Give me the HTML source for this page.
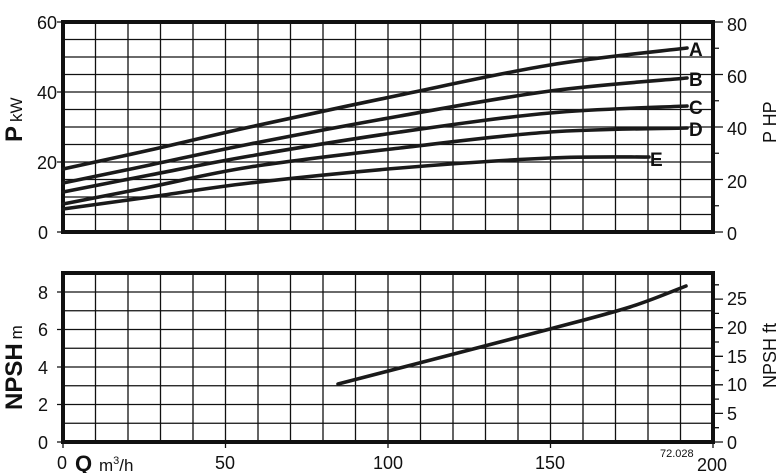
<!DOCTYPE html>
<html><head><meta charset="utf-8"><style>
body{margin:0;background:#fff;}
svg{display:block;font-family:"Liberation Sans",sans-serif;}
</style></head><body>
<svg width="784" height="473" viewBox="0 0 784 473" xmlns="http://www.w3.org/2000/svg">
<g stroke="#111" stroke-width="1.3" fill="none">
<path d="M95.5 22V232M128 22V232M160.5 22V232M193 22V232M225.5 22V232M258 22V232M290.5 22V232M323 22V232M355.5 22V232M388 22V232M420.5 22V232M453 22V232M485.5 22V232M518 22V232M550.5 22V232M583 22V232M615.5 22V232M648 22V232M680.5 22V232"/>
<path d="M63 39.5H713M63 57H713M63 74.5H713M63 92H713M63 109.5H713M63 127H713M63 144.5H713M63 162H713M63 179.5H713M63 197H713M63 214.5H713"/>
<path d="M95.5 273V442M128 273V442M160.5 273V442M193 273V442M225.5 273V442M258 273V442M290.5 273V442M323 273V442M355.5 273V442M388 273V442M420.5 273V442M453 273V442M485.5 273V442M518 273V442M550.5 273V442M583 273V442M615.5 273V442M648 273V442M680.5 273V442"/>
<path d="M63 423.25H713M63 404.5H713M63 385.75H713M63 367H713M63 348.25H713M63 329.5H713M63 310.75H713M63 292H713"/>
<path d="M57 22H63M57 92H63M57 162H63M57 232H63"/>
<path d="M57 292H63M57 329.5H63M57 367H63M57 404.5H63M57 442H63"/>
<path d="M713 22H723M713 48.25H719M713 74.5H723M713 100.75H719M713 127H723M713 153.25H719M713 179.5H723M713 205.75H719M713 232H723"/>
<path d="M713 442H723M713 427.7H719M713 413.4H723M713 399.1H719M713 384.8H723M713 370.5H719M713 356.3H723M713 342H719M713 327.7H723M713 313.4H719M713 299.1H723M713 284.8H719"/>
<path d="M63 442V448M225.5 442V448M388 442V448M550.5 442V448M713 442V448"/>
</g>
<g stroke="#111" stroke-width="4" fill="none">
<rect x="63" y="22" width="650" height="210"/>
<rect x="63" y="273" width="650" height="169"/>
</g>
<g id="curves" stroke="#1a1a1a" stroke-width="3.6" fill="none" stroke-linecap="round" stroke-linejoin="round">
<path d="M63 169 L150 150 L250 127 L400 95 L550 65 L687 48"/>
<path d="M63 183 L150 165 L250 144 L400 116 L550 91 L687 78"/>
<path d="M63 192 L150 175 L250 156 L400 132 L550 113 L687 106"/>
<path d="M63 204 L150 187 L250 167 L400 148 L550 132 L687 128"/>
<path d="M63 209 L150 197 L250 183 L400 168 L550 158 L649 157"/>
<path d="M338 384 L450 355 L550 329 L630 307 L686 286"/>
</g>
<g fill="#111" font-size="18">
<text x="57" y="29" text-anchor="end">60</text>
<text x="57" y="99" text-anchor="end">40</text>
<text x="57" y="169" text-anchor="end">20</text>
<text x="48" y="239" text-anchor="end">0</text>
<text x="48" y="299" text-anchor="end">8</text>
<text x="48" y="336" text-anchor="end">6</text>
<text x="48" y="374" text-anchor="end">4</text>
<text x="48" y="411" text-anchor="end">2</text>
<text x="48" y="449" text-anchor="end">0</text>
<text x="727" y="31">80</text>
<text x="727" y="83">60</text>
<text x="727" y="135">40</text>
<text x="727" y="188">20</text>
<text x="727" y="240">0</text>
<text x="727" y="305">25</text>
<text x="727" y="334">20</text>
<text x="727" y="363">15</text>
<text x="727" y="391">10</text>
<text x="727" y="420">5</text>
<text x="727" y="449">0</text>
<text x="57" y="469">0</text>
<text x="225" y="469" text-anchor="middle">50</text>
<text x="388" y="469" text-anchor="middle">100</text>
<text x="550" y="469" text-anchor="middle">150</text>
<text x="712" y="471" text-anchor="middle">200</text>
</g>
<g fill="#111" font-size="19" font-weight="bold">
<text x="689" y="56">A</text>
<text x="689" y="86">B</text>
<text x="689" y="114">C</text>
<text x="689" y="136">D</text>
<text x="650" y="166">E</text>
</g>
<text x="75" y="471" font-size="22" font-weight="bold" fill="#111">Q</text>
<text x="99" y="471" font-size="17" fill="#111">m<tspan font-size="11" dy="-7">3</tspan><tspan dy="7">/h</tspan></text>
<text x="660" y="457" font-size="11" fill="#111">72.028</text>
<text transform="translate(22,142) rotate(-90)" fill="#111"><tspan font-size="24" font-weight="bold">P</tspan><tspan font-size="17" dx="4">kW</tspan></text>
<text transform="translate(22,410) rotate(-90)" fill="#111"><tspan font-size="24" font-weight="bold">NPSH</tspan><tspan font-size="17" dx="4">m</tspan></text>
<text transform="translate(776,143) rotate(-90)" fill="#111" font-size="18">P HP</text>
<text transform="translate(776,388) rotate(-90)" fill="#111" font-size="18">NPSH ft</text>
</svg>
<script>
document.querySelectorAll('#curves path').forEach(function(p){
  var pts=p.getAttribute('d').replace(/[ML]/g,' ').trim().split(/\s+/).map(Number);
  var P=[];for(var i=0;i<pts.length;i+=2)P.push([pts[i],pts[i+1]]);
  var d='M'+P[0][0]+' '+P[0][1];
  for(var i=0;i<P.length-1;i++){
    var p0=P[i-1]||P[i],p1=P[i],p2=P[i+1],p3=P[i+2]||P[i+1];
    var c1=[p1[0]+(p2[0]-p0[0])/6,p1[1]+(p2[1]-p0[1])/6];
    var c2=[p2[0]-(p3[0]-p1[0])/6,p2[1]-(p3[1]-p1[1])/6];
    d+=' C'+c1[0]+' '+c1[1]+' '+c2[0]+' '+c2[1]+' '+p2[0]+' '+p2[1];
  }
  p.setAttribute('d',d);
});
</script>
</body></html>
